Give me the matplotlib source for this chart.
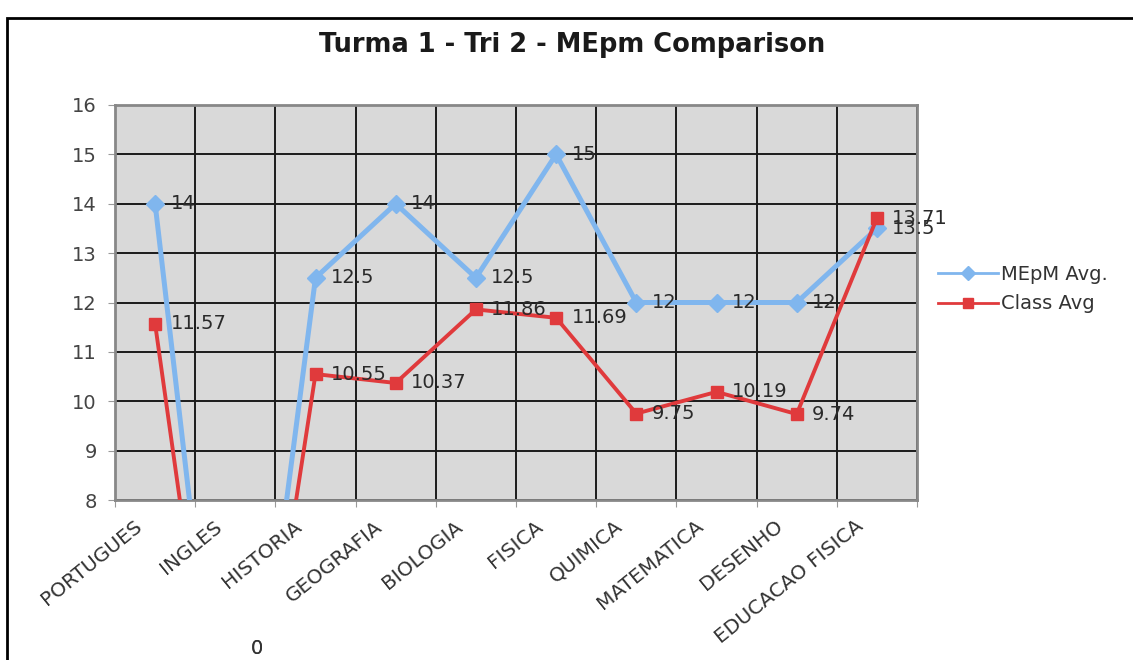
import numpy as np
import matplotlib.pyplot as plt
import matplotlib.transforms as mtransforms
from matplotlib.patches import Rectangle
from matplotlib.lines import Line2D

subjects = ["PORTUGUES", "INGLES", "HISTORIA", "GEOGRAFIA", "BIOLOGIA",
            "FISICA", "QUIMICA", "MATEMATICA", "DESENHO", "EDUCACAO FISICA"]
mepm_avg = [14, 0, 12.5, 14, 12.5, 15, 12, 12, 12, 13.5]
class_avg = [11.57, 0, 10.55, 10.37, 11.86, 11.69, 9.75, 10.19, 9.74, 13.71]
y_ticks = [8, 9, 10, 11, 12, 13, 14, 15, 16]

W, H = 1133, 660
fig = plt.figure(figsize=(W / 100, H / 100), dpi=100)
ax = fig.add_axes([115 / W, 1 - 500 / H, (917 - 115) / W, (500 - 105) / H])

x = np.arange(len(subjects))
blue = "#80b6ee"
red = "#e03a3c"

ax.set_facecolor("#d9d9d9")
ax.plot(x, mepm_avg, color=blue, lw=3.6, marker="D", ms=9, zorder=3)
ax.plot(x, class_avg, color=red, lw=2.8, marker="s", ms=9, zorder=4)

ax.set_xlim(-0.5, len(subjects) - 0.5)
ax.set_ylim(y_ticks[0], y_ticks[-1])
ax.set_yticks(y_ticks)

# gridlines on category boundaries, labels at category centres
ax.set_xticks(np.arange(-0.5, len(subjects)))
ax.set_xticklabels([])
ax.set_xticks(x, minor=True)
ax.set_xticklabels(subjects, minor=True, rotation=39, ha="right", fontsize=14.5, color="#333333")
ax.tick_params(axis="x", which="minor", length=0, pad=12)
ax.tick_params(axis="x", which="major", length=5, color="#999999")
ax.tick_params(axis="y", length=5, color="#999999", labelsize=14, labelcolor="#444444", pad=8)
shift = mtransforms.ScaledTranslation(-10 / 100, 0, fig.dpi_scale_trans)
for lab in ax.xaxis.get_minorticklabels():
    lab.set_transform(lab.get_transform() + shift)

ax.grid(True, which="major", color="#1a1a1a", lw=1.4, zorder=1)
ax.set_axisbelow(True)
for s in ax.spines.values():
    s.set_color("#888888")
    s.set_linewidth(2)

# data labels
low = mtransforms.blended_transform_factory(ax.transData, fig.transFigure)
for series in (mepm_avg, class_avg):
    for i, v in enumerate(series):
        if v < y_ticks[0]:
            ax.text(i, 1 - 648 / H, f"{v:g}",
                    transform=low + mtransforms.ScaledTranslation(15 / 100, 0, fig.dpi_scale_trans),
                    fontsize=14, color="#333333", va="center")
        else:
            ax.annotate(f"{v:g}", (i, v), xytext=(11, 0), textcoords="offset points",
                        va="center", fontsize=14, color="#2a2a2a", zorder=5)

fig.text(572 / W, 1 - 45 / H, "Turma 1 - Tri 2 - MEpm Comparison", ha="center", va="center",
         fontsize=18.5, fontweight="bold", color="#1a1a1a")

handles = [Line2D([], [], color=blue, lw=2, marker="D", ms=7),
           Line2D([], [], color=red, lw=2, marker="s", ms=7)]
leg = fig.legend(handles, ["MEpM Avg.", "Class Avg"], loc="center left",
                 bbox_to_anchor=(938 / W, 1 - 289 / H), frameon=False, borderpad=0,
                 fontsize=14, handlelength=3.1, handletextpad=0.15, labelspacing=0.55,
                 borderaxespad=0)
for t in leg.get_texts():
    t.set_color("#333333")

fig.patches.append(Rectangle((7 / W, -0.1), 1.2, 1.1 - 18 / H, transform=fig.transFigure,
                             fill=False, ec="black", lw=2))

fig.savefig("out.png", dpi=100)
